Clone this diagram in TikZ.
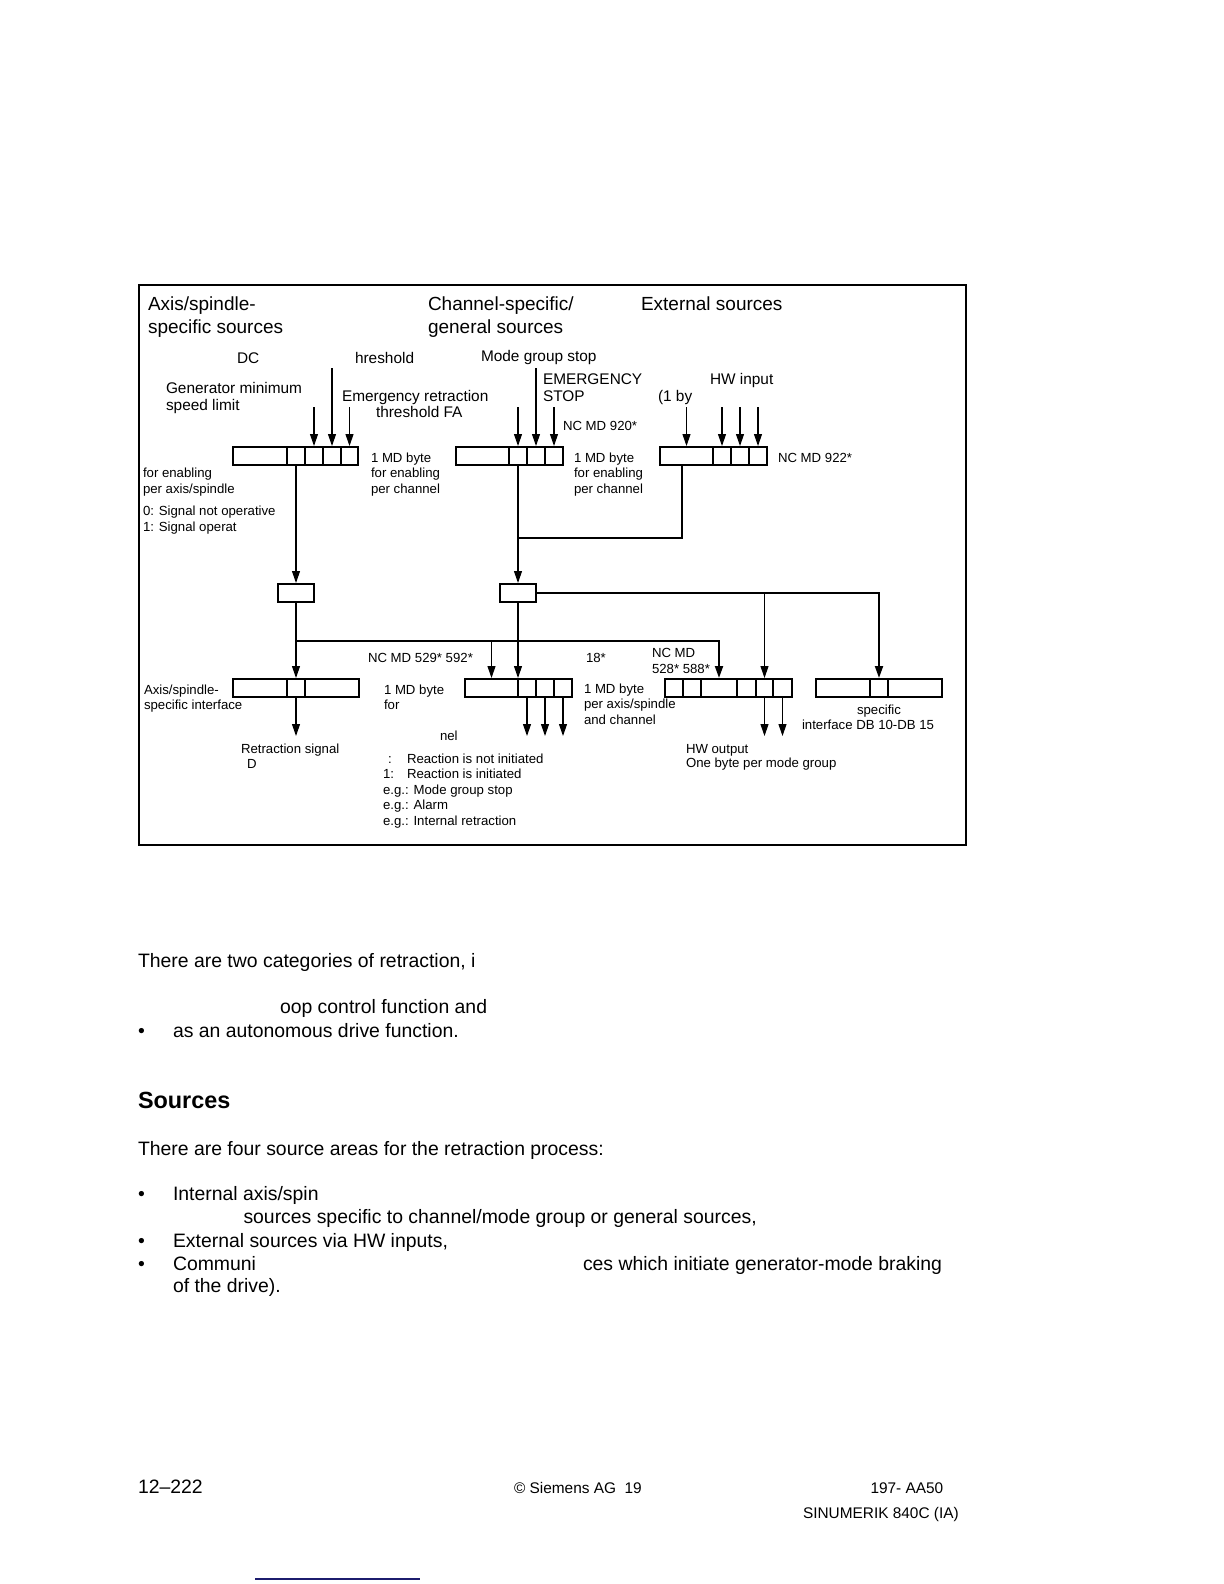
\documentclass[tikz,border=0pt]{standalone}
\usepackage{fontspec}
\setmainfont{Liberation Sans}
\usetikzlibrary{arrows.meta}
\definecolor{navyline}{RGB}{28,28,110}
\begin{document}
\begin{tikzpicture}[x=0.5pt,y=-0.5pt,
 txt/.style={anchor=base west,inner sep=0pt,outer sep=0pt},
 hd/.style={txt,font=\fontsize{9.5}{11}\selectfont},
 md/.style={txt,font=\fontsize{7.7}{9}\selectfont},
 sm/.style={txt,font=\fontsize{6.6}{8}\selectfont},
 bd/.style={txt,font=\fontsize{9.7}{12}\selectfont},
 ft/.style={txt,font=\fontsize{7.7}{9}\selectfont},
 cell/.style={draw,line width=1pt,inner sep=0pt,minimum height=9pt},
 thinln/.style={line width=0.55pt},
 thkln/.style={line width=1pt},
 arr/.style={-{Triangle[length=6pt,width=4pt]}},
]
\useasboundingbox (0,0) rectangle (1224,1584);
% frame
\draw[thkln] (139,285) rectangle (966,845);

% ---------- row 1 boxes
\node[cell,minimum width=27pt] (a0) at (260,456) {};
\node[cell,minimum width=9pt] (a1) at (296,456) {};
\node[cell,minimum width=9pt] (a2) at (314,456) {};
\node[cell,minimum width=9pt] (a3) at (332,456) {};
\node[cell,minimum width=8.5pt] (a4) at (349.5,456) {};

\node[cell,minimum width=26.5pt] (b0) at (482.5,456) {};
\node[cell,minimum width=9pt] (b1) at (518,456) {};
\node[cell,minimum width=9pt] (b2) at (536,456) {};
\node[cell,minimum width=9pt] (b3) at (554,456) {};

\node[cell,minimum width=26.5pt] (c0) at (686.5,456) {};
\node[cell,minimum width=9pt] (c1) at (722,456) {};
\node[cell,minimum width=9pt] (c2) at (740,456) {};
\node[cell,minimum width=9pt] (c3) at (758,456) {};

% small boxes
\node[cell,minimum width=18pt] (s1) at (296,593) {};
\node[cell,minimum width=18pt] (s2) at (518,593) {};

% ---------- row 2 boxes
\node[cell,minimum width=27pt] (d0) at (260,688) {};
\node[cell,minimum width=9pt] (d1) at (296,688) {};
\node[cell,minimum width=27pt] (d2) at (332,688) {};

\node[cell,minimum width=26.5pt] (e0) at (491.5,688) {};
\node[cell,minimum width=9pt] (e1) at (527,688) {};
\node[cell,minimum width=9pt] (e2) at (545,688) {};
\node[cell,minimum width=9pt] (e3) at (563,688) {};

\node[cell,minimum width=9pt] (f0) at (674,688) {};
\node[cell,minimum width=9pt] (f1) at (692,688) {};
\node[cell,minimum width=18pt] (f2) at (719,688) {};
\node[cell,minimum width=9.5pt] (f3) at (746.5,688) {};
\node[cell,minimum width=8.5pt] (f4) at (764.5,688) {};
\node[cell,minimum width=9.5pt] (f5) at (782.5,688) {};

\node[cell,minimum width=27pt] (g0) at (843,688) {};
\node[cell,minimum width=9pt] (g1) at (879,688) {};
\node[cell,minimum width=27pt] (g2) at (915,688) {};

% ---------- input arrows
\coordinate (ia2) at (314,407);
\coordinate (ia3) at (332,368);
\coordinate (ia4) at (349.5,407);
\draw[thinln,arr] (ia2) -- (a2.north);
\draw[thinln,arr] (ia3) -- (a3.north);
\draw[thinln,arr] (ia4) -- (a4.north);

\coordinate (ib1) at (518,407);
\coordinate (ib2) at (536,368);
\coordinate (ib3) at (554,407);
\draw[thinln,arr] (ib1) -- (b1.north);
\draw[thinln,arr] (ib2) -- (b2.north);
\draw[thinln,arr] (ib3) -- (b3.north);

\coordinate (ic0) at (686.5,407);
\coordinate (ic1) at (722,407);
\coordinate (ic2) at (740,407);
\coordinate (ic3) at (758,407);
\draw[thinln,arr] (ic0) -- (c0.north);
\draw[thinln,arr] (ic1) -- (c1.north);
\draw[thinln,arr] (ic2) -- (c2.north);
\draw[thinln,arr] (ic3) -- (c3.north);

% ---------- middle connections
\draw[thinln,arr] (a1.south) -- (s1.north);
\draw[thinln,arr] (b1.south) -- (s2.north);
\coordinate (jn) at (518,538);
\draw[thinln] (c0.south) ++(-4.5,0) |- (jn);

\coordinate (h1) at (296,641);
\draw[thinln,arr] (s1.south) -- (d1.north);
\draw[thkln,arr] (h1) -| (f2.north);
\draw[thinln,arr] (e0.north |- h1) -- (e0.north);
\draw[thinln,arr] (s2.south) -- (s2.south |- e1.north);
\draw[thkln,arr] (s2.east) -| (g1.north);
\draw[thinln,arr] (f4.north |- s2.east) -- (f4.north);

% ---------- output arrows
\draw[thinln,arr] (d1.south) -- ++(0,38);
\draw[thinln,arr] (e1.south) -- ++(0,38);
\draw[thinln,arr] (e2.south) -- ++(0,38);
\draw[thinln,arr] (e3.south) -- ++(0,38);
\draw[thinln,arr] (f4.south) -- ++(0,38);
\draw[thinln,arr] (f5.south) -- ++(0,38);

% ---------- headings
\node[hd] (t1) at (148,310) {Axis/spindle-};
\node[hd] (t2) at (148,333) {specific sources};
\node[hd] (t3) at (428,310) {Channel-specific/};
\node[hd] (t4) at (428,333) {general sources};
\node[hd] (t5) at (641,310) {External sources};

% ---------- medium labels
\node[md] (m1) at (237,363) {DC};
\node[md] (m2) at (355,363) {hreshold};
\node[md] (m3) at (481,361) {Mode group stop};
\node[md] (m4) at (166,393) {Generator minimum};
\node[md] (m5) at (166,410) {speed limit};
\node[md] (m6) at (342,401) {Emergency retraction};
\node[md] (m7) at (376,417) {threshold FA};
\node[md] (m8) at (543,384) {EMERGENCY};
\node[md] (m9) at (543,401) {STOP};
\node[md] (m10) at (658,401) {(1 by};
\node[md] (m11) at (710,384) {HW input};

% ---------- small labels
\node[sm] (n1) at (563,430) {NC MD 920*};
\node[sm] (n2) at (371,462) {1 MD byte};
\node[sm] (n3) at (371,477) {for enabling};
\node[sm] (n4) at (371,493) {per channel};
\node[sm] (n5) at (574,462) {1 MD byte};
\node[sm] (n6) at (574,477) {for enabling};
\node[sm] (n7) at (574,493) {per channel};
\node[sm] (n8) at (778,462) {NC MD 922*};
\node[sm] (n9) at (143,477) {for enabling};
\node[sm] (n10) at (143,493) {per axis/spindle};
\node[sm] (n11) at (143,515) {0: Signal not operative};
\node[sm] (n12) at (143,531) {1: Signal operat};
\node[sm] (n13) at (368,662) {NC MD 529* 592*};
\node[sm] (n14) at (586,662) {18*};
\node[sm] (n15) at (652,657) {NC MD};
\node[sm] (n16) at (652,673) {528* 588*};
\node[sm] (n17) at (144,694) {Axis/spindle-};
\node[sm] (n18) at (144,709) {specific interface};
\node[sm] (n19) at (384,694) {1 MD byte};
\node[sm] (n20) at (384,709) {for};
\node[sm] (n21) at (584,693) {1 MD byte};
\node[sm] (n22) at (584,708) {per axis/spindle};
\node[sm] (n23) at (584,724) {and channel};
\node[sm,anchor=base] (n24) at (879,714) {specific};
\node[sm] (n25) at (802,729) {interface DB 10-DB 15};
\node[sm] (n26) at (440,740) {nel};
\node[sm] (n27) at (241,753) {Retraction signal};
\node[sm] (n28) at (247,768) {D};
\node[sm] (n29) at (388,763.5) {:};
\node[sm] (n30) at (407,763.5) {Reaction is not initiated};
\node[sm] (n31) at (383,778.5) {1:};
\node[sm] (n32) at (407,778.5) {Reaction is initiated};
\node[sm] (n33) at (383,794) {e.g.: Mode group stop};
\node[sm] (n34) at (383,809.5) {e.g.: Alarm};
\node[sm] (n35) at (383,825.5) {e.g.: Internal retraction};
\node[sm] (n36) at (686,753) {HW output};
\node[sm] (n37) at (686,767) {One byte per mode group};

% ---------- body text
\node[bd] (p1) at (138,967) {There are two categories of retraction, i};
\node[bd] (p2) at (280,1013) {oop control function and};
\node[bd] (p3) at (138,1037) {•};
\node[bd] (p4) at (173,1037) {as an autonomous drive function.};
\node[txt,font=\fontsize{11.7}{14}\selectfont\bfseries] (p5) at (138,1108) {Sources};
\node[bd] (p6) at (138,1155) {There are four source areas for the retraction process:};
\node[bd] (p7) at (138,1200) {•};
\node[bd] (p8) at (173,1200) {Internal axis/spin};
\node[bd] (p9) at (243.5,1223) {sources specific to channel/mode group or general sources,};
\node[bd] (p10) at (138,1247) {•};
\node[bd] (p11) at (173,1247) {External sources via HW inputs,};
\node[bd] (p12) at (138,1270) {•};
\node[bd] (p13) at (173,1270) {Communi};
\node[bd] (p14) at (583,1270) {ces which initiate generator-mode braking};
\node[bd] (p15) at (173,1292) {of the drive).};

% ---------- footer
\node[bd] (q1) at (138,1493) {12–222};
\node[ft] (q2) at (514,1493) {© Siemens AG\ \ 19};
\node[ft] (q3) at (870.5,1493) {197- AA50};
\node[ft] (q4) at (803,1518) {SINUMERIK 840C (IA)};
\coordinate (bl1) at (255,1579);
\coordinate (bl2) at (420,1579);
\draw[navyline,line width=0.8pt] (bl1) -- (bl2);
\end{tikzpicture}
\end{document}
